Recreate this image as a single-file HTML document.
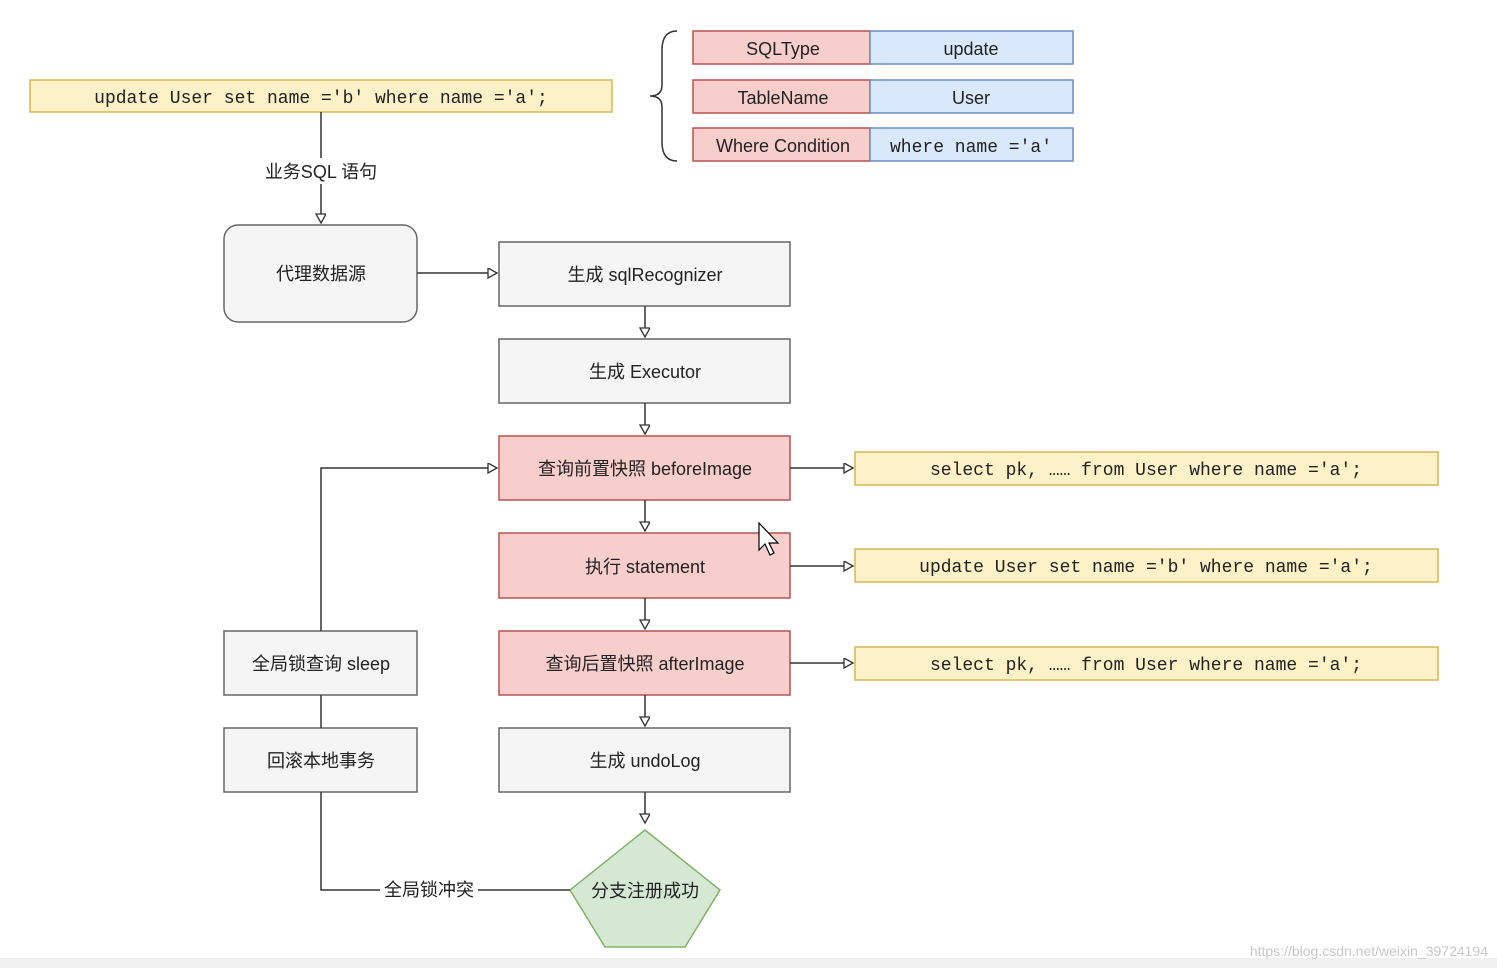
<!DOCTYPE html>
<html><head><meta charset="utf-8"><style>
html,body{margin:0;padding:0;background:#fff;}
svg text{font-family:"Liberation Sans","Noto Sans CJK SC",sans-serif;}
.m{font-family:"Liberation Mono","Noto Sans CJK SC",monospace !important;}
</style></head><body>
<svg width="1497" height="968" viewBox="0 0 1497 968" xmlns="http://www.w3.org/2000/svg">
<defs><marker id="a" markerWidth="12" markerHeight="12" refX="10" refY="5" orient="auto" markerUnits="userSpaceOnUse"><path d="M1,0 L10,5 L1,10 Z" fill="#fff" stroke="#333" stroke-width="1.3"/></marker></defs>
<rect x="0" y="958" width="1497" height="10" fill="#f0f0f0"/>
<g stroke-width="1.5">
<rect x="30" y="80" width="582" height="32" fill="#fdf1c8" stroke="#d6b656"/>
<rect x="693" y="31" width="177" height="33" fill="#f8cecc" stroke="#b85450"/>
<rect x="870" y="31" width="203" height="33" fill="#dae8fc" stroke="#6c8ebf"/>
<rect x="693" y="80" width="177" height="33" fill="#f8cecc" stroke="#b85450"/>
<rect x="870" y="80" width="203" height="33" fill="#dae8fc" stroke="#6c8ebf"/>
<rect x="693" y="128" width="177" height="33" fill="#f8cecc" stroke="#b85450"/>
<rect x="870" y="128" width="203" height="33" fill="#dae8fc" stroke="#6c8ebf"/>
<rect x="224" y="225" width="193" height="97" rx="14" fill="#f5f5f5" stroke="#666"/>
<rect x="499" y="242" width="291" height="64" fill="#f5f5f5" stroke="#666"/>
<rect x="499" y="339" width="291" height="64" fill="#f5f5f5" stroke="#666"/>
<rect x="499" y="436" width="291" height="64" fill="#f8cecc" stroke="#b85450"/>
<rect x="499" y="533" width="291" height="65" fill="#f8cecc" stroke="#b85450"/>
<rect x="499" y="631" width="291" height="64" fill="#f8cecc" stroke="#b85450"/>
<rect x="499" y="728" width="291" height="64" fill="#f5f5f5" stroke="#666"/>
<rect x="224" y="631" width="193" height="64" fill="#f5f5f5" stroke="#666"/>
<rect x="224" y="728" width="193" height="64" fill="#f5f5f5" stroke="#666"/>
<rect x="855" y="452" width="583" height="33" fill="#fdf1c8" stroke="#d6b656"/>
<rect x="855" y="549" width="583" height="33" fill="#fdf1c8" stroke="#d6b656"/>
<rect x="855" y="647" width="583" height="33" fill="#fdf1c8" stroke="#d6b656"/>
<path d="M645,830 L720,890 L685,947 L605,947 L570,890 Z" fill="#d5e8d4" stroke="#82b366"/>
</g>
<g fill="none" stroke="#333" stroke-width="1.5">
<path d="M677,31 Q662,31 662,50 L662,85 Q662,96 650,96 Q662,96 662,107 L662,142 Q662,161 677,161"/>
<path d="M321,112 V158 M321,186 V223" marker-end="url(#a)"/>
<path d="M417,273 H497" marker-end="url(#a)"/>
<path d="M645,306 V337" marker-end="url(#a)"/>
<path d="M645,403 V434" marker-end="url(#a)"/>
<path d="M645,500 V531" marker-end="url(#a)"/>
<path d="M645,598 V629" marker-end="url(#a)"/>
<path d="M645,695 V726" marker-end="url(#a)"/>
<path d="M645,792 V823" marker-end="url(#a)"/>
<path d="M790,468 H853" marker-end="url(#a)"/>
<path d="M790,566 H853" marker-end="url(#a)"/>
<path d="M790,663 H853" marker-end="url(#a)"/>
<path d="M321,631 V468 H497" marker-end="url(#a)"/>
<path d="M321,695 V728"/>
<path d="M321,792 V890 H380 M478,890 H570"/>
</g>
<path d="M321,160 V186" stroke="#333" stroke-width="1.5"/>
<rect x="258" y="160" width="128" height="24" fill="#fff"/>
<g font-size="18" fill="#222" text-anchor="middle">
<text class="m" x="321" y="103">update User set name ='b' where name ='a';</text>
<text x="783" y="55">SQLType</text><text x="971" y="55">update</text>
<text x="783" y="104">TableName</text><text x="971" y="104">User</text>
<text x="783" y="152">Where Condition</text><text class="m" x="971" y="152">where name ='a'</text>
<text x="321" y="178">业务SQL 语句</text>
<text x="321" y="280">代理数据源</text>
<text x="645" y="281">生成 sqlRecognizer</text>
<text x="645" y="378">生成 Executor</text>
<text x="645" y="475">查询前置快照 beforeImage</text>
<text x="645" y="573">执行 statement</text>
<text x="645" y="670">查询后置快照 afterImage</text>
<text x="645" y="767">生成 undoLog</text>
<text x="321" y="670">全局锁查询 sleep</text>
<text x="321" y="767">回滚本地事务</text>
<text x="429" y="896">全局锁冲突</text>
<text x="645" y="897">分支注册成功</text>
<text class="m" x="1146" y="475">select pk, …… from User where name ='a';</text>
<text class="m" x="1146" y="572">update User set name ='b' where name ='a';</text>
<text class="m" x="1146" y="670">select pk, …… from User where name ='a';</text>
</g>
<path d="M759,523 L759,550 L765,544 L770,555 L774,553 L769,543 L778,543 Z" fill="#fff" stroke="#000" stroke-width="1.2"/>
<text x="1488" y="956" font-size="14" fill="#c8c8c8" text-anchor="end">https://blog.csdn.net/weixin_39724194</text>
</svg>
</body></html>
